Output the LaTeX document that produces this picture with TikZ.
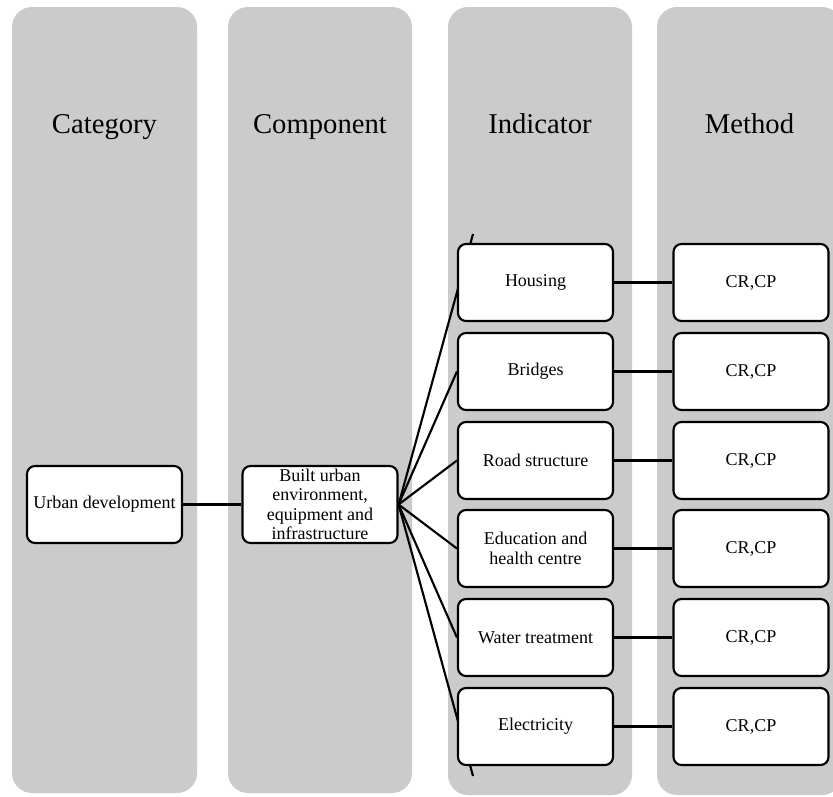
\documentclass[tikz,border=0pt]{standalone}
\usepackage{fontspec}
\setmainfont{Liberation Serif}
\pgfdeclarelayer{bg}
\pgfdeclarelayer{mid}
\pgfsetlayers{bg,mid,main}
\definecolor{colgray}{RGB}{203,203,203}
\begin{document}
\begin{tikzpicture}[x=0.75pt,y=-0.75pt,
  column/.style={fill=colgray,draw=none,rounded corners=15pt},
  header/.style={font=\fontsize{21.5}{24}\selectfont,anchor=base,inner sep=0pt},
  box/.style={draw=black,line width=1.6pt,fill=white,rounded corners=6pt,
    minimum width=116.25pt,minimum height=57.75pt,inner sep=1pt,align=center,
    font=\fontsize{13.5}{14.5}\selectfont},
  link/.style={line width=1.6pt}]
\useasboundingbox (0,0) rectangle (833,797);

% grey columns and their titles
\begin{pgfonlayer}{bg}
  \fill[column] (12,7) rectangle (197,793);
  \fill[column] (228,7) rectangle (412,793);
  \fill[column] (448,7) rectangle (632,795);
  \fill[column] (657,7) rectangle (842,795);
  \node[header] (hcat) at (104.5,133) {Category};
  \node[header] (hcomp) at (320,133) {Component};
  \node[header] (hind) at (540,133) {Indicator};
  \node[header] (hmeth) at (749.5,133) {Method};
\end{pgfonlayer}

% boxes
\node[box] (urban) at (104.5,504.5) {Urban development};
\node[box] (built) at (320,504.5) {Built urban\\environment,\\equipment and\\infrastructure};

\node[box] (i1) at (535.5,282.5) {Housing};
\node[box] (i2) at (535.5,371.5) {Bridges};
\node[box] (i3) at (535.5,460.5) {Road structure};
\node[box] (i4) at (535.5,548.5) {Education and\\health centre};
\node[box] (i5) at (535.5,637.5) {Water treatment};
\node[box] (i6) at (535.5,726.5) {Electricity};

\foreach \k/\y in {1/282.5,2/371.5,3/460.5,4/548.5,5/637.5,6/726.5}
  \node[box] (m\k) at (751,\y) {CR,CP};

\coordinate (top) at (473,234);
\coordinate (bot) at (473,776);

% connectors
\begin{pgfonlayer}{mid}
  \draw[link] (urban.east) -- (built.west);
  \draw[link] (built.east) -- (top);
  \draw[link] (built.east) -- (i2.west);
  \draw[link] (built.east) -- (i3.west);
  \draw[link] (built.east) -- (i4.west);
  \draw[link] (built.east) -- (i5.west);
  \draw[link] (built.east) -- (bot);
  \foreach \k in {1,...,6}
    \draw[link] (i\k.east) -- (m\k.west);
\end{pgfonlayer}
\end{tikzpicture}
\end{document}
